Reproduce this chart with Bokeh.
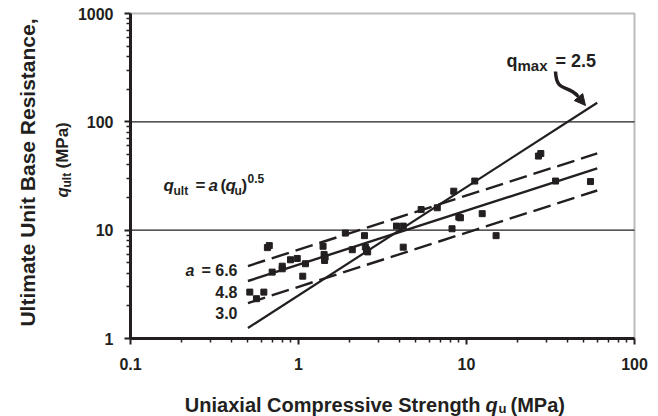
import math
from bokeh.plotting import figure
from bokeh.models import (Label, FixedTicker, CustomJSTickFormatter, Arrow, NormalHead,
                          LogAxis, Range1d, BoxAnnotation)
from bokeh.embed import file_html
from bokeh.resources import INLINE

# ---------------- data ----------------
qu = [0.653, 0.67, 0.513, 0.562, 0.622, 0.697, 0.80, 0.80, 0.896, 0.983,
      1.10, 1.06, 1.40, 1.42, 1.44, 1.43, 1.90, 2.09, 2.47, 2.50,
      2.58, 2.54, 3.83, 4.20, 4.20, 5.37, 6.70, 8.4, 8.2, 9.0,
      9.2, 11.2, 12.4, 15.0, 26.8, 27.7, 33.9, 54.7]
qult = [6.9, 7.2, 2.68, 2.33, 2.68, 4.1, 4.4, 4.65, 5.33, 5.48,
        4.9, 3.76, 7.1, 5.97, 5.64, 5.25, 9.4, 6.6, 8.9, 7.0,
        6.3, 6.6, 10.9, 10.9, 6.97, 15.5, 16.1, 22.9, 10.3, 13.2,
        13.0, 28.4, 14.2, 8.9, 48.3, 51.0, 28.4, 28.1]

fit_qu = [0.5, 60.0]          # extent of the fitted lines
a_values = [6.6, 4.8, 3.0]    # q_ult = a * q_u^0.5
exponent = 0.5
qmax_ratio = 2.5              # q_ult = 2.5 * q_u

x_ticks = [0.1, 1, 10, 100]
y_ticks = [1, 10, 100, 1000]
grid_y = [10, 100]
x_minor = [m * 10.0 ** e for e in (-1, 0, 1) for m in range(2, 10)]
y_minor = [m * 10.0 ** e for e in (0, 1, 2) for m in range(2, 10)]

INK = "#231f20"
FONT = "Liberation Sans"
W, H = 658, 416

# plot box in canvas pixels: 0.1 -> 130, 100 -> 634 ; 1 -> 338, 1000 -> 13
X0, X1 = 130.0, 634.0
Y0, Y1 = 338.0, 13.0
DEC_X = (X1 - X0) / 3.0
DEC_Y = (Y0 - Y1) / 3.0


def dx(px):
    return 10 ** (-1 + (px - X0) / DEC_X)


def dy(py):
    return 10 ** ((Y0 - py) / DEC_Y)


p = figure(width=W, height=H, x_axis_type="log", y_axis_type="log",
           x_axis_location=None, y_axis_location=None,
           x_range=Range1d(dx(0), dx(W)), y_range=Range1d(dy(H), dy(0)),
           output_backend="svg", toolbar_location=None, min_border=0,
           background_fill_color="white", border_fill_color="white",
           outline_line_color=None)
p.xgrid.visible = False
p.ygrid.visible = False

# frame box (top/right border)
p.add_layout(BoxAnnotation(left=x_ticks[0], right=x_ticks[-1], bottom=y_ticks[0], top=y_ticks[-1],
                           fill_alpha=0, line_color=INK, line_width=2))

# horizontal grid lines
p.segment(x0=[x_ticks[0]] * len(grid_y), x1=[x_ticks[-1]] * len(grid_y), y0=grid_y, y1=grid_y,
          line_color=INK, line_width=1.3)

# axes
xax = LogAxis(fixed_location=y_ticks[0], bounds=(x_ticks[0], x_ticks[-1]))
yax = LogAxis(fixed_location=x_ticks[0], bounds=(y_ticks[0], y_ticks[-1]))
for ax, ticks, minor, standoff in ((xax, x_ticks, x_minor, 13),
                                   (yax, y_ticks, y_minor, 11)):
    ax.ticker = FixedTicker(ticks=ticks, minor_ticks=minor)
    ax.formatter = CustomJSTickFormatter(code="return tick.toString();")
    ax.major_label_text_font = FONT
    ax.major_label_text_font_style = "bold"
    ax.major_label_text_font_size = "16px"
    ax.major_label_text_color = INK
    ax.major_label_standoff = standoff
    ax.axis_line_width = 3
    ax.axis_line_color = INK
    ax.major_tick_line_color = INK
    ax.minor_tick_line_color = INK
    ax.major_tick_line_width = 2
    ax.minor_tick_line_width = 1.5
    ax.major_tick_in = 0
    ax.major_tick_out = 6
    ax.minor_tick_in = 0
    ax.minor_tick_out = 4
p.add_layout(xax, "below")
p.add_layout(yax, "left")

# fitted lines
p.line(fit_qu, [qmax_ratio * q for q in fit_qu], line_color=INK, line_width=2.2)
dash_style = {6.6: "18 7", 4.8: "solid", 3.0: "18 7"}
for a in a_values:
    p.line(fit_qu, [a * q ** exponent for q in fit_qu], line_color=INK,
           line_width=2.4, line_dash=dash_style[a])

# data points
p.scatter(qu, qult, marker="square", size=6, color=INK)


def lab(text, px, py, size, italic=False, align="left", baseline="alphabetic", angle=0.0):
    p.add_layout(Label(x=dx(px), y=dy(py), text=text, text_font=FONT,
                       text_font_style="bold italic" if italic else "bold",
                       text_font_size=f"{size}px", text_align=align,
                       text_baseline=baseline, angle=angle, text_color=INK))


# formula
lab("q", 163, 185, 17, italic=True)
lab("ult", 173, 190, 12)
lab("=", 195, 185, 17)
lab("a", 208, 185, 17, italic=True)
lab("(", 220, 185, 17)
lab("q", 225, 185, 17, italic=True)
lab("u", 234, 190, 12)
lab(")", 241, 185, 17)
lab("0.5", 247, 178, 12)

# a labels
lab("a", 185, 270, 16, italic=True)
lab("= 6.6", 237, 270, 16, align="right")
lab("4.8", 237, 291, 16, align="right")
lab("3.0", 237, 312, 16, align="right")

# q_max label
lab("q", 506, 60, 18)
lab("max", 517, 65, 15)
lab("= 2.5", 555, 60, 18)

# curved arrow
p.bezier(x0=[dx(555)], y0=[dy(71)], x1=[dx(577)], y1=[dy(95)],
         cx0=[dx(556)], cy0=[dy(92)], cx1=[dx(566)], cy1=[dy(84)],
         line_color=INK, line_width=3.5)
p.add_layout(Arrow(end=NormalHead(size=11, fill_color=INK, line_color=INK),
                   x_start=dx(575), y_start=dy(93), x_end=dx(585), y_end=dy(105),
                   line_color=INK, line_width=3))

# x-axis title
lab("Uniaxial Compressive Strength", 480, 404, 20, align="right")
lab("q", 485, 404, 20, italic=True)
lab("u", 498, 408, 13)
lab("(MPa)", 510, 404, 20)

# y-axis title
lab("Ultimate Unit Base Resistance,", 27, 172, 21, align="center",
    baseline="middle", angle=math.pi / 2)
lab("q", 62, 197, 17, italic=True, angle=math.pi / 2)
lab("ult", 66, 187, 12, angle=math.pi / 2)
lab("(MPa)", 62, 168, 17, angle=math.pi / 2)

open("out.html", "w").write(file_html(p, INLINE))
